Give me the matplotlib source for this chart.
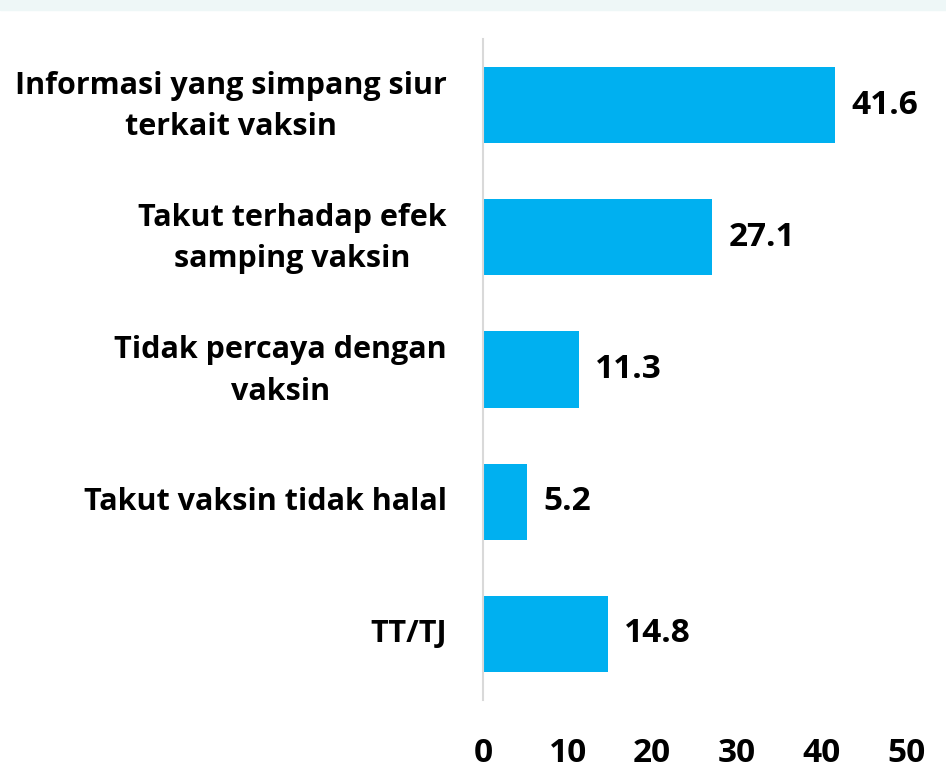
import matplotlib
matplotlib.use("Agg")
import matplotlib.pyplot as plt

categories = ["Informasi yang simpang siur\nterkait vaksin",
              "Takut terhadap efek\nsamping vaksin",
              "Tidak percaya dengan\nvaksin",
              "Takut vaksin tidak halal",
              "TT/TJ"]
values = [41.6, 27.1, 11.3, 5.2, 14.8]
xticks = [0, 10, 20, 30, 40, 50]

plt.rcParams['font.family'] = ['Open Sans', 'DejaVu Sans']
fig = plt.figure(figsize=(9.46, 7.81), dpi=100)
# faint top band like the reference background
fig.patches.append(plt.Rectangle((0, 1 - 10/781), 1, 10/781, transform=fig.transFigure,
                                 color='#eef7f7', zorder=0))
ax = fig.add_axes([483/946, 1 - 700/781, (906-483)/946, (700-39)/781])
y = list(range(len(categories)))
ax.barh(y, values, height=0.576, color='#00b0f0')
ax.set_ylim(len(categories) - 0.5, -0.5)
ax.set_xlim(0, 50)
for s in ['top', 'right', 'bottom']:
    ax.spines[s].set_visible(False)
ax.spines['left'].set_color('#d9d9d9')
ax.spines['left'].set_linewidth(1.5)
ax.set_yticks(y)
ax.set_yticklabels([])
ax.set_xticks(xticks)
ax.set_xticklabels([str(t) for t in xticks], fontsize=24, fontweight='bold')
ax.tick_params(axis='y', length=0)
ax.tick_params(axis='x', length=0, pad=27)
for yi, lab in zip(y, categories):
    dy = -1 if "\n" in lab else 0
    ax.annotate(lab, xy=(0, yi), xycoords=('axes fraction', 'data'),
                xytext=(-26, dy), textcoords='offset points',
                ha='right', va='center', multialignment='center',
                fontsize=22, fontweight='bold', linespacing=1.5)
for yi, v in zip(y, values):
    ax.text(v + 1.9, yi, f"{v:.1f}", va='center', ha='left', fontsize=24, fontweight='bold')
fig.savefig("out.png", dpi=100)
